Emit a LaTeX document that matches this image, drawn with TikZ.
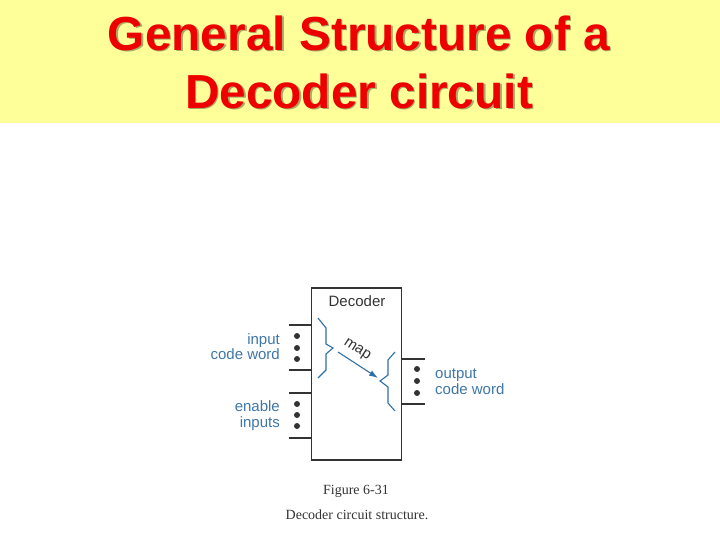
\documentclass[tikz,border=0pt]{standalone}
\usepackage{fontspec}
\usetikzlibrary{arrows.meta}
\setmainfont{Liberation Sans}
\newfontfamily\capfont{Liberation Serif}
\definecolor{bandyellow}{HTML}{FFFF99}
\definecolor{titlered}{HTML}{EE0000}
\definecolor{titleshade}{HTML}{A8A868}
\definecolor{labelblue}{HTML}{3F76A8}
\definecolor{mapblue}{HTML}{2F6FA8}
\definecolor{boxgray}{HTML}{333333}
\tikzset{
    titletext/.style={align=center, font=\fontsize{47.8}{58}\selectfont\bfseries, inner sep=0pt},
    bluelabel/.style={text=labelblue, font=\fontsize{15}{16}\selectfont, inner sep=0pt},
    capttext/.style={text=boxgray, font=\fontsize{14}{14}\capfont, inner sep=0pt},
    stub/.style={line width=1.3pt, draw=boxgray},
    brace/.style={line width=1.1pt, draw=mapblue}
}
\begin{document}
\begin{tikzpicture}[x=1pt,y=-1pt]
    \useasboundingbox (0,0) rectangle (720,540);
    \fill[bandyellow] (0,0) rectangle (720,123);

    \node[titletext, text=titleshade] (shade) at (360.5,63.5) {General Structure of a\\Decoder circuit};
    \node[titletext, text=titlered] (title) at (359,62) {General Structure of a\\Decoder circuit};

    \draw[line width=1.5pt, draw=boxgray] (311.5,288) rectangle (401.5,460);
    \node[font=\fontsize{15}{16}\selectfont, text=boxgray, inner sep=0pt] (dec) at (357,301) {Decoder};

    % stubs on the left and on the right
    \foreach \y in {325,370,393,438}{
        \draw[stub] (289,\y) -- (311.5,\y);
    }
    \foreach \y in {359,404}{
        \draw[stub] (401.5,\y) -- (425,\y);
    }

    \foreach \y in {336,348,359,404,415,426}{
        \fill[boxgray] (297,\y) circle (3);
    }
    \foreach \y in {369,381,393}{
        \fill[boxgray] (417,\y) circle (3);
    }

    \node[bluelabel, anchor=base east] (in1) at (280,344) {input};
    \node[bluelabel, anchor=base east] (in2) at (280,359.5) {code word};
    \node[bluelabel, anchor=base east] (en1) at (280,411) {enable};
    \node[bluelabel, anchor=base east] (en2) at (280,427) {inputs};
    \node[bluelabel, anchor=base west] (out1) at (435,378) {output};
    \node[bluelabel, anchor=base west] (out2) at (435,394) {code word};

    \draw[brace] (318,318) -- (326,328) -- (326,344) -- (333,348) -- (326,354) -- (326,370) -- (318,378);
    \draw[brace] (395,352) -- (388,360) -- (388,375) -- (380,381) -- (388,387) -- (388,403) -- (395,411);

    \coordinate (mapfrom) at (338,352);
    \coordinate (mapto) at (378,378);
    \draw[-{Latex[length=9pt,width=6pt]}, line width=1.1pt, draw=mapblue] (mapfrom) -- (mapto);
    \node[text=boxgray, font=\fontsize{15}{16}\selectfont, rotate=-33, inner sep=0pt] (map) at (357,350) {map};

    \node[capttext] (fig) at (356,491) {Figure 6-31};
    \node[capttext] (capt) at (357,515) {Decoder circuit structure.};
\end{tikzpicture}
\end{document}
